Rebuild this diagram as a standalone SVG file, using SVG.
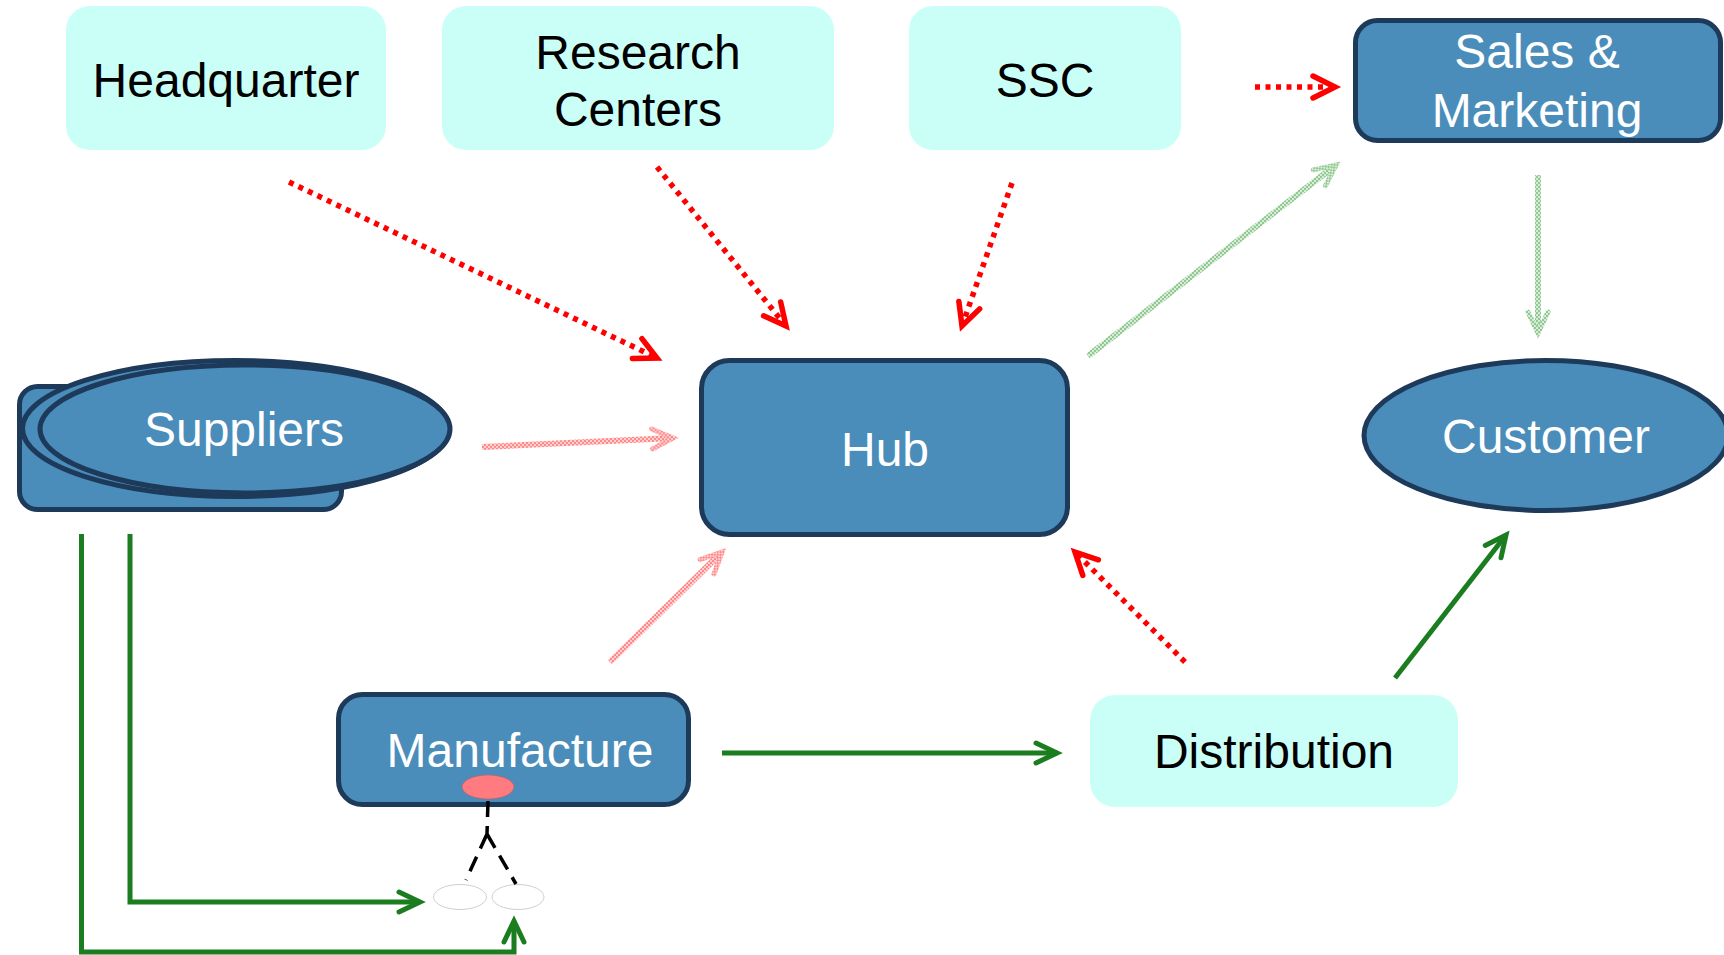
<svg xmlns="http://www.w3.org/2000/svg" width="1724" height="955" viewBox="0 0 1724 955">
<style>
.lt{fill:#cafff8;stroke:none}
.dk{fill:#4a8dba;stroke:#1e3a5a;stroke-width:5}
.tb{font-family:"Liberation Sans",Arial,sans-serif;font-size:48px;fill:#000;text-anchor:middle}
.tw{font-family:"Liberation Sans",Arial,sans-serif;font-size:48px;fill:#fff;text-anchor:middle}
.red{fill:none;stroke:#ff0000;stroke-width:5.5;stroke-dasharray:5 5.5;marker-end:url(#mRed)}
.grn{fill:none;stroke:#1b7d1f;stroke-width:5;stroke-linejoin:miter}
.pnk{fill:none;stroke:url(#pinkPat);stroke-width:6;marker-end:url(#mPink)}
.lgr{fill:none;stroke:url(#greenPat);stroke-width:6;marker-end:url(#mLGreen)}
</style>
<defs>
<pattern id="pinkPat" patternUnits="userSpaceOnUse" width="4" height="4">
<rect width="4" height="4" fill="#ffd0d0"/>
<rect width="2" height="2" fill="#ff8a8a"/>
<rect x="2" y="2" width="2" height="2" fill="#ff8a8a"/>
</pattern>
<pattern id="greenPat" patternUnits="userSpaceOnUse" width="4" height="4">
<rect width="4" height="4" fill="#d6ecd6"/>
<rect width="2" height="2" fill="#92c992"/>
<rect x="2" y="2" width="2" height="2" fill="#92c992"/>
</pattern>
<marker id="mRed" markerUnits="userSpaceOnUse" viewBox="-28 -16 32 32" markerWidth="32" markerHeight="32" refX="0" refY="0" orient="auto" overflow="visible">
<path d="M-22,-11 L0,0 L-22,11" fill="none" stroke="#ff0000" stroke-width="5.5" stroke-linecap="round" stroke-dasharray="none"/>
</marker>
<marker id="mGreen" markerUnits="userSpaceOnUse" viewBox="-28 -16 32 32" markerWidth="32" markerHeight="32" refX="0" refY="0" orient="auto" overflow="visible">
<path d="M-21,-10 L0,0 L-21,10" fill="none" stroke="#1b7d1f" stroke-width="5" stroke-linecap="round"/>
</marker>
<marker id="mPink" markerUnits="userSpaceOnUse" viewBox="-28 -16 32 32" markerWidth="32" markerHeight="32" refX="0" refY="0" orient="auto" overflow="visible">
<path d="M-21,-10 L0,0 L-21,10" fill="none" stroke="url(#pinkPat)" stroke-width="5" stroke-linecap="round"/>
</marker>
<marker id="mLGreen" markerUnits="userSpaceOnUse" viewBox="-28 -16 32 32" markerWidth="32" markerHeight="32" refX="0" refY="0" orient="auto" overflow="visible">
<path d="M-21,-10 L0,0 L-21,10" fill="none" stroke="url(#greenPat)" stroke-width="5" stroke-linecap="round"/>
</marker>
</defs>
<rect width="1724" height="955" fill="#fff"/>

<g id="headquarter">
<rect class="lt" x="66" y="6" width="320" height="144" rx="24"/>
<text class="tb" x="226" y="97">Headquarter</text>
</g>
<g id="research-centers">
<rect class="lt" x="442" y="6" width="392" height="144" rx="24"/>
<text class="tb" x="638" y="69">Research</text>
<text class="tb" x="638" y="126">Centers</text>
</g>
<g id="ssc">
<rect class="lt" x="909" y="6" width="272" height="144" rx="24"/>
<text class="tb" x="1045" y="97">SSC</text>
</g>
<g id="sales-marketing">
<rect class="dk" x="1355.5" y="20.5" width="365" height="120" rx="22"/>
<text class="tw" x="1537" y="68">Sales &amp;</text>
<text class="tw" x="1537" y="127">Marketing</text>
</g>
<g id="suppliers">
<rect class="dk" x="19.5" y="386.5" width="322" height="123" rx="18"/>
<ellipse class="dk" cx="235.5" cy="428.5" rx="213" ry="68"/>
<ellipse class="dk" cx="245" cy="429" rx="205" ry="64"/>
<text class="tw" x="244" y="446">Suppliers</text>
</g>
<g id="hub">
<rect class="dk" x="701.5" y="360.5" width="366" height="174" rx="28"/>
<text class="tw" x="885" y="466">Hub</text>
</g>
<g id="customer">
<ellipse class="dk" cx="1546" cy="435.5" rx="182" ry="75"/>
<text class="tw" x="1546" y="453">Customer</text>
</g>
<g id="manufacture">
<rect class="dk" x="338.5" y="694.5" width="350" height="110" rx="24"/>
<text class="tw" x="520" y="767">Manufacture</text>
<ellipse cx="488" cy="787" rx="26" ry="12" fill="#ff7b80" stroke="#c05a60" stroke-width="0.6"/>
</g>
<g id="distribution">
<rect class="lt" x="1090" y="695" width="368" height="112" rx="25"/>
<text class="tb" x="1274" y="768">Distribution</text>
</g>
<g id="sub-parts">
<ellipse cx="460" cy="897" rx="26.5" ry="12.5" fill="#fff" stroke="#cfcfcf" stroke-width="1"/>
<ellipse cx="518" cy="897" rx="26" ry="12.5" fill="#fff" stroke="#cfcfcf" stroke-width="1"/>
</g>

<g id="connectors">
<path class="red" d="M289,182 L657,358"/>
<path class="red" d="M657,167 L786,326"/>
<path class="red" d="M1012,183 L962,326"/>
<path class="red" d="M1255,87 L1335,87"/>
<path class="red" d="M1185,662 L1075,552"/>
<path class="pnk" d="M482,447 L673,438"/>
<path class="pnk" d="M610,662 L722,552"/>
<path class="lgr" d="M1088,356 L1336,165"/>
<path class="lgr" d="M1538,175 L1538,333"/>
<path class="grn" d="M722,753 L1057,753" marker-end="url(#mGreen)"/>
<path class="grn" d="M1395,678 L1506,535" marker-end="url(#mGreen)"/>
<path class="grn" d="M130,534 V902 H420" marker-end="url(#mGreen)"/>
<path class="grn" d="M81.5,534 V952 H514 V921" marker-end="url(#mGreen)"/>
<path d="M488,801 L487,834 M487,834 L466,880 M487,834 L516,884" fill="none" stroke="#000" stroke-width="3.5" stroke-dasharray="16 9"/>
</g>
</svg>
